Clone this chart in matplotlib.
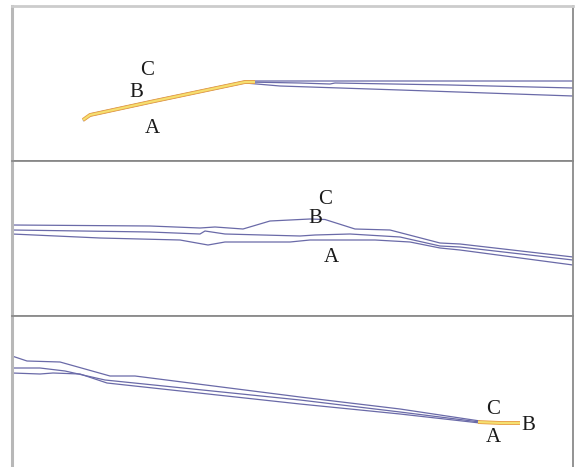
import matplotlib
matplotlib.use("Agg")
import matplotlib.pyplot as plt

# ---- data (distance, level) ----
# Panel 1
p1_C_x = [83, 90, 150, 245, 300, 330, 450, 573]
p1_C_y = [120, 114, 101, 81, 81, 81, 81, 81]
p1_B_x = [83, 90, 150, 245, 300, 330, 335, 450, 573]
p1_B_y = [120, 115, 102, 82, 83, 84, 83, 85, 88]
p1_A_x = [83, 90, 150, 245, 280, 400, 573]
p1_A_y = [121, 116, 103, 83, 86, 90, 96]
p1_hi_x = [83, 90, 150, 245, 255]
p1_hi_y = [120, 115, 102, 82, 82]

# Panel 2
p2_C_x = [12, 150, 200, 215, 243, 270, 310, 325, 355, 390, 440, 460, 573]
p2_C_y = [225, 226, 228, 227, 229, 221, 219, 219.5, 229, 230, 243, 244, 257]
p2_B_x = [12, 150, 200, 205, 225, 300, 315, 350, 400, 440, 460, 573]
p2_B_y = [230, 232, 234, 231, 234, 236, 235, 234, 237, 246, 247, 260]
p2_A_x = [12, 100, 180, 208, 225, 290, 310, 375, 410, 440, 460, 573]
p2_A_y = [234, 238, 240, 245, 242, 242, 240, 240, 242, 248, 250, 265]

# Panel 3
p3_C_x = [12, 27, 60, 110, 135, 300, 400, 480]
p3_C_y = [356, 361, 362, 376, 376, 397, 409, 421]
p3_B_x = [12, 40, 65, 105, 300, 400, 480, 520]
p3_B_y = [368, 368, 371, 380, 400, 412, 422, 423]
p3_A_x = [12, 40, 53, 80, 107, 300, 400, 480]
p3_A_y = [373, 374, 373, 374, 383, 404, 414, 423]
p3_hi_x = [478, 500, 520]
p3_hi_y = [422, 423, 423]

labels = ["C", "B", "A"]
p1_lab_x = [147, 136, 152]
p1_lab_y = [71, 93, 129]
p2_lab_x = [325, 315, 331]
p2_lab_y = [200, 219, 258]
p3_lab_x = [493, 528, 493]
p3_lab_y = [409, 425, 438]

# ---- figure ----
W, H = 578, 467
fig = plt.figure(figsize=(W / 100, H / 100), dpi=100)

def make_ax(top, bottom):
    ax = fig.add_axes([12 / W, 1 - bottom / H, (573 - 12) / W, (bottom - top) / H])
    ax.set_xlim(12, 573)
    ax.set_ylim(bottom, top)
    ax.set_xticks([])
    ax.set_yticks([])
    for s in ax.spines.values():
        s.set_linewidth(1.3)
        s.set_color("#8a8a8a")
    ax.spines["left"].set_color("#b8b8b8")
    ax.spines["left"].set_linewidth(2.2)
    return ax

ax1 = make_ax(6, 161)
ax2 = make_ax(161, 316)
ax3 = make_ax(316, 470)
ax1.spines["top"].set_color("#cccccc")
ax1.spines["top"].set_linewidth(2)
ax1.spines["bottom"].set_color("#707070")
ax2.spines["bottom"].set_color("#a0a0a0")
ax3.spines["bottom"].set_visible(False)

line_col = "#6a6aa8"
lw = 0.9

for ax, series, hi, lx, ly in [
    (ax1, [(p1_C_x, p1_C_y), (p1_B_x, p1_B_y), (p1_A_x, p1_A_y)], (p1_hi_x, p1_hi_y), p1_lab_x, p1_lab_y),
    (ax2, [(p2_C_x, p2_C_y), (p2_B_x, p2_B_y), (p2_A_x, p2_A_y)], None, p2_lab_x, p2_lab_y),
    (ax3, [(p3_C_x, p3_C_y), (p3_B_x, p3_B_y), (p3_A_x, p3_A_y)], (p3_hi_x, p3_hi_y), p3_lab_x, p3_lab_y),
]:
    for x, y in series:
        ax.plot(x, y, color=line_col, lw=lw, solid_capstyle="butt")
    if hi is not None:
        ax.plot(hi[0], hi[1], color="#e8a048", lw=2.8, solid_capstyle="butt")
        ax.plot(hi[0], hi[1], color="#f5e070", lw=1.5, solid_capstyle="butt")
    for t, x, y in zip(labels, lx, ly):
        ax.text(x, y, t, ha="center", va="center", fontsize=15,
                family="Liberation Serif", color="#1a1a1a")

fig.savefig("out.png", dpi=100)
